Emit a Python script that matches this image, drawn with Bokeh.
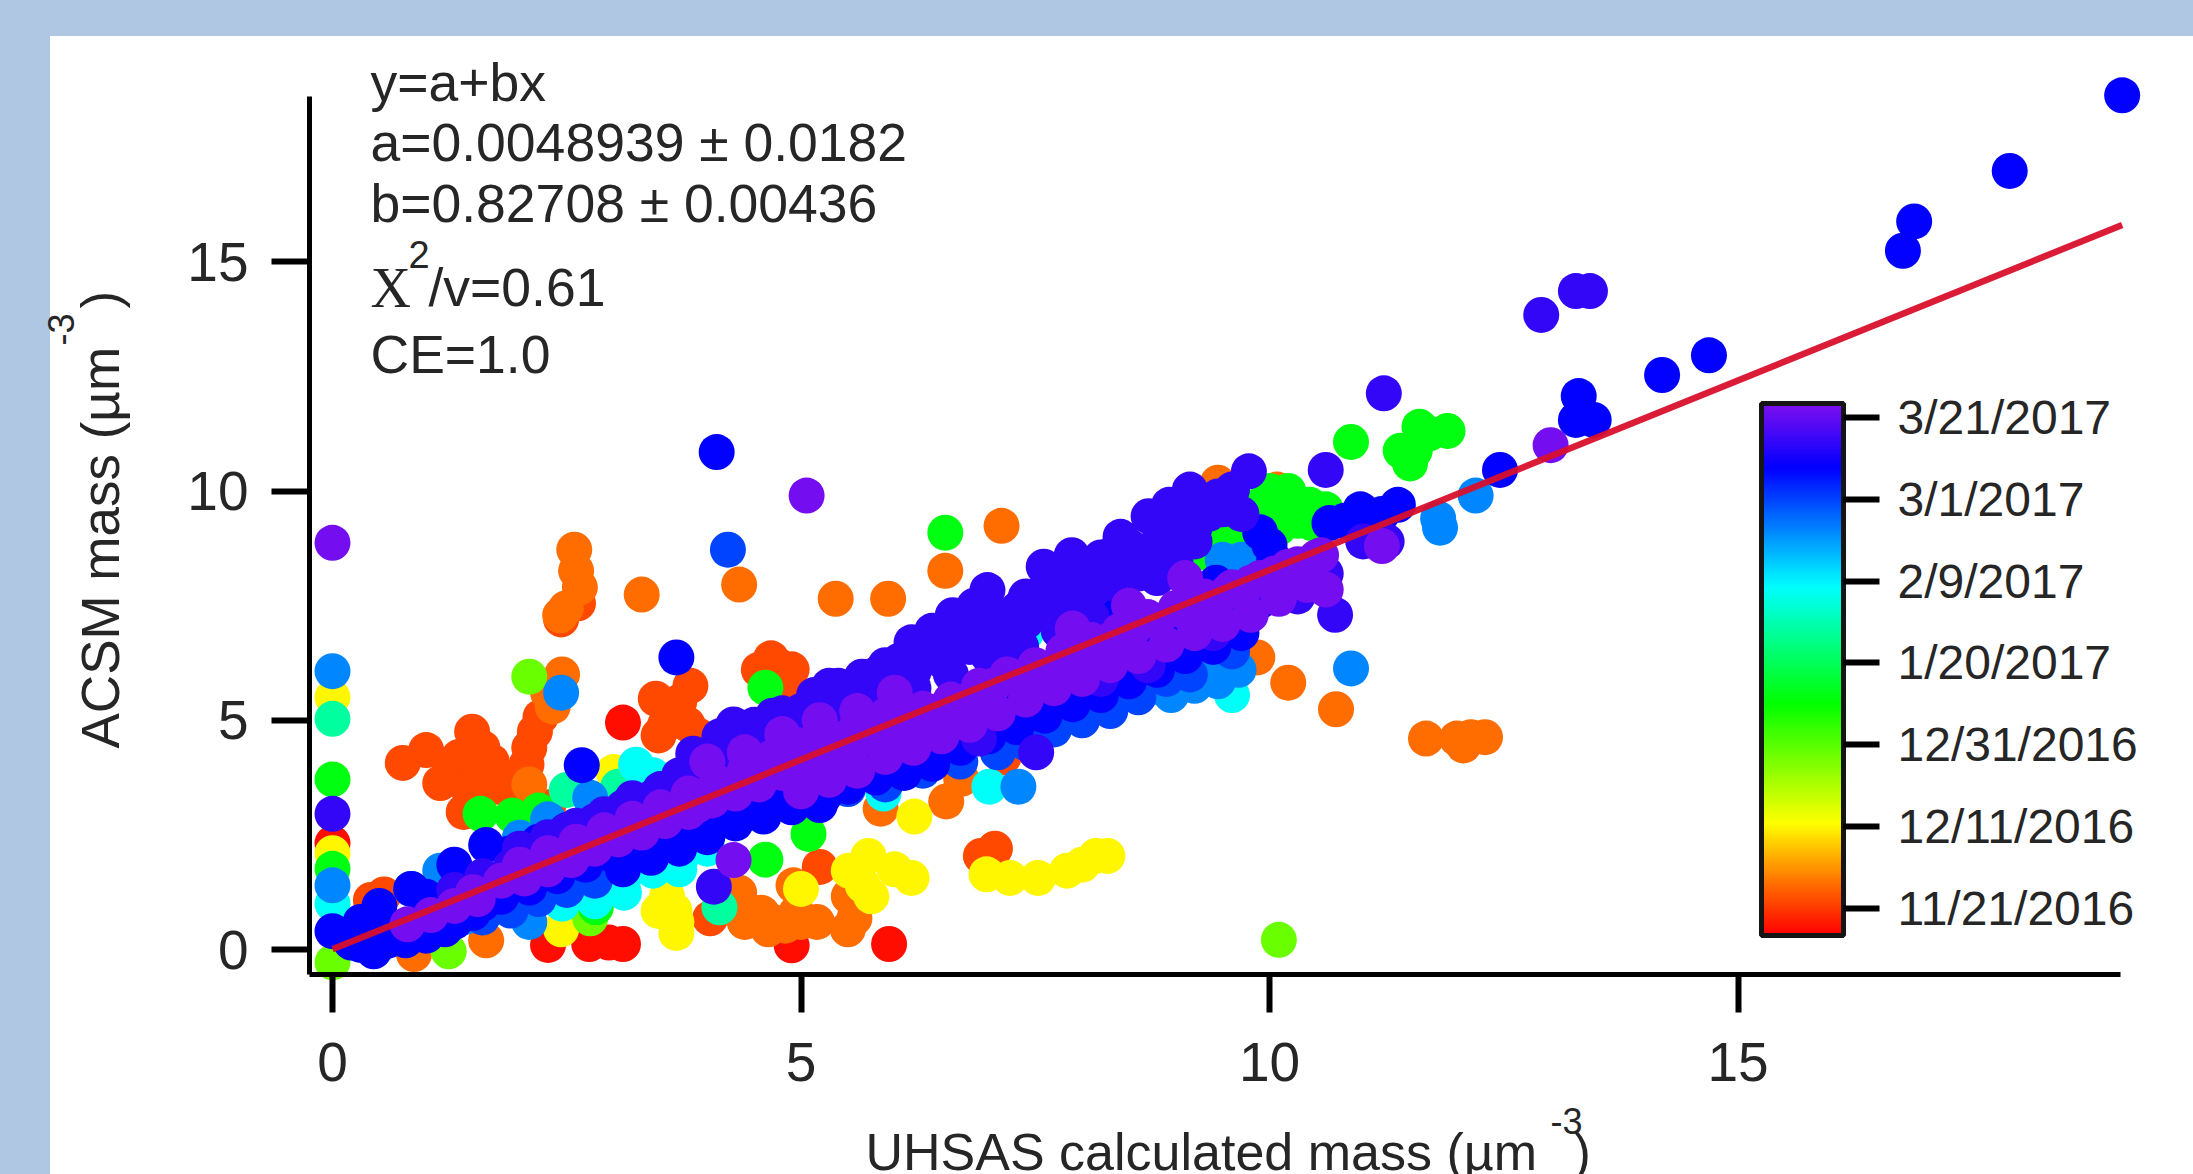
import numpy as np
from bokeh.plotting import figure
from bokeh.models import ColumnDataSource, LinearColorMapper, ColorBar, FixedTicker, Label
from bokeh.embed import file_html
from bokeh.resources import INLINE

# ---------- data: (x, y), grouped by date colour (days since 11/21/2016)
red_day = -5
red_pts = [(2.74,.12),(2.95,.15),(3.1,.12),(5.94,.12),(4.9,.09),(3.1,4.95),(0,2.32),(2.3,.1)]
orange_red_day = 2
orange_red_pts = [(.75,4.07),(1,4.35),(1.15,3.63),(1.25,3.95),(1.35,4.2),(1.49,4.75),(1.49,4.2),(1.58,3.8),(1.7,4.1),(1.76,3.55),(1.45,3.5),(1.6,4.4),
    (1.4,3.0),(2.07,4.03),(2.07,3.4),(2.0,3.7),(2.22,5.07),(2.16,4.75),(2.1,4.4),(2.44,7.2),(2.62,7.55),(3.45,5.47),(3.82,5.75),(3.6,5.15),(3.7,5.4),
    (3.48,4.67),(3.79,4.91),(3.9,4.67),(3.55,4.9),(4.68,6.35),(4.9,6.11),(4.8,5.71),(4.03,.68),(.41,1.08),(.55,1.2),(6.92,2.04),(7.07,2.2),
    (7.16,4.19),(5.2,1.8),(2.3,3.1),(4.55,6.1),(4.75,6.2)]
orange_day = 6
orange_pts = [(2.58,8.72),(2.6,8.26),(2.64,7.9),(2.49,7.44),(2.43,7.29),(3.3,7.74),(5.37,7.65),(5.93,7.65),(4.34,7.96),
    (6.54,8.26),(7.14,9.24),(9.87,6.37),(10.2,5.82),(10.71,5.24),(11.67,4.6),(12.07,4.45),(12.15,4.63),(12.3,4.63),(12.0,4.6),
    (9.45,10.18),(10.08,10.03),(4.4,.6),(4.58,.8),(4.65,.44),(4.83,.52),(5.0,.6),(5.17,.6),(5.5,.44),(5.57,.68),(4.92,1.4),(5.51,1.16),
    (4.34,1.24),(4.4,.9),(4.7,.6),(4.95,.8),(6.71,3.72),(6.55,3.23),(5.85,3.07),(2.1,3.6),(2.3,5.6),(2.45,6.0),(2.35,5.3),(1.64,.2),(.87,-.1)]
yellow_day = 20
yellow_pts = [(6.98,1.64),(7.23,1.56),(7.53,1.56),(7.84,1.72),(8.15,2.04),(8.27,2.04),(8.0,1.85),(6.18,1.56),(5.72,2.04),(5.66,1.4),
    (5.75,1.16),(5.51,1.72),(6.0,1.75),(5,1.32),(3.57,1.16),(3.67,.6),(3.67,.36),(3.48,.84),(3.65,.85),(2.44,.44),(6.21,2.9),(3,3.87),(0,5.5),(0,2.1)]
lime_day = 38
lime_pts = [(2.1,5.95),(10.1,.21),(1.24,-.04),(2.75,.68),(0,-.28)]
green_day = 52
green_pts = [(1.58,2.96),(1.92,2.92),(2.2,3.03),(2.81,.92),(4.62,1.96),(5.08,2.52),(4.62,5.71),(6.54,9.09),(10.87,11.07),
    (11.4,10.88),(11.55,10.88),(11.6,11.4),(11.7,11.25),(11.9,11.31),(11.5,10.6),(9.6,9.57),(9.9,9.7),(10.2,9.57),(10.43,9.7),(9.75,9.1),(9.45,9.1),
    (9.3,8.66),(10.0,10.0),(10.1,9.2),(9.4,9.0),(9.7,8.9),(9.55,9.3),(9.85,9.4),(10.3,9.35),(10.45,9.3),(10.6,9.6),(10.2,10.0),(0,3.71),(0,1.76)]
teal_day = 68
teal_pts = [(2.5,3.48),(3.05,3.55),(4.13,.92),(0,5.03)]
cyan_day = 78
cyan_pts = [(3.24,4.03),(3.42,3.8),(3.11,1.24),(3.42,1.72),(3.73,2.04),(2.81,1.32),(2.45,1.0),(2.8,1.05),(3.1,1.5),(3.7,1.75),(4,2.2),
    (7.01,3.55),(5.88,3.4),(9.6,5.55),(0,1),(8.14,7.33),(7.1,6.9),(7.4,6.9)]
azure_day = 92
azure_pts = [(10.87,6.13),(2.44,5.6),(0,6.07),(0,1.4),(7.32,3.55),(.5,.1),(.8,.25),(1.1,.45),(1.4,.7),(1.8,.95),(2.1,.6),(2.1,1.2),
    (2.4,1.45),(2.7,1.7),(3,1.95),(3.3,2.15),(3.6,2.4),(3.9,2.7),(4.2,2.9),(8.71,5.7),(8.95,5.55),(9.2,5.75),(9.45,5.85),(9.67,6.1),(9.4,6.3),
    (9.5,8.5),(9.7,8.5),(9.6,8.1),(1.15,1.72),(.84,1.32),(2,2.44),(2.75,3.31),(2.3,2.84),(11.82,9.2),(12.2,9.9),(11.8,9.4)]
royal_day = 100
royal_pts = [(4.22,8.72),(4.5,3.1),(4.8,3.35),(5.1,3.4),(5.5,3.5),(5.9,3.6),(6.3,3.9),(6.7,4.1),(7.1,4.3),(7.4,4.5),(7.7,4.8),(8,5),(8.3,5.2),(8.6,5.5),
    (8.9,5.9),(9.15,6.0),(9.6,6.5),(1.6,.7),(1.9,.85),(2.2,1.1),(2.5,1.3),(2.8,1.5)]
blue_day = 108
blue_pts = [(4.1,10.85),(3.67,6.37),(2.66,4.02),(19.1,18.63),(17.9,16.98),(16.88,15.88),(16.76,15.24),(14.69,12.96),(14.19,12.53),
    (13.3,12.07),(13.35,11.62),(13.46,11.55),(13.27,11.55),(12.46,10.46),(10.64,9.3),(10.97,9.6),(11.37,9.7),(11.1,9.3),(10.8,9.35),(11.2,9.5),
    (10,8.82),(10.05,8.5),(9.43,8.0),(8.38,7.34),(0,.4),(.3,.1),(.44,-.04),(.6,.2),(.78,.2),(.9,.45),(1.2,.44),(1.5,.8),(1.8,1.15),(2.1,1.35),(2.4,1.6),(2.7,1.85),(3,2.05),(3.3,2.35),
    (3.6,2.6),(3.9,2.85),(4.2,3.1),(4.5,3.3),(4.8,3.55),(5.1,3.8),(5.4,4.05),(5.7,4.3),(6,4.45),(6.3,4.7),(6.6,4.95),(6.9,5.25),(7.2,5.4),
    (7.5,5.7),(7.8,5.9),(8.1,6.2),(8.4,6.5),(8.7,6.7),(9,6.9),(9.3,7.2),(9.6,7.4),(9.9,7.6),(1.64,2.28),(1.3,1.85),(.84,1.32),(.5,.95),(.3,.6),
    (1.0,1.15),(1.9,2.1),(2.2,2.35),(2.5,2.6),(4.1,3.4),(4.65,3.55),(5.65,3.85),(6.05,4.05),(6.4,4.35),(4.35,3.0),(5.25,3.35),(7.7,8.2),(8.0,8.1),
    (9.9,9.1),(.2,.15),(.45,.3),(.7,.35),(1,.3),(1.3,.6),(1.6,1.0),(3.1,1.75),(3.4,2),(3.7,2.2),(4,2.45),(4.3,2.75),(4.6,2.9),(4.9,3.1),(5.2,3.15),(5.5,3.55),
    (5.8,3.75),(6.1,3.85),(6.4,4.05),(6.7,4.4),(7,4.65),(7.3,4.85),(7.6,5.1),(7.9,5.35),(8.2,5.55),(8.5,5.85),(8.8,6.1),(9.1,6.4),(9.4,6.6),(9.7,6.9)]
indigo_day = 114
indigo_pts = [(3.85,4.27),(4.13,4.65),(4.28,4.91),(4.5,4.9),(4.7,5.1),(4.8,5.15),(5.14,5.55),(5.4,5.75),(5.65,5.95),(5.9,6.2),(6.18,6.7),(6.4,6.95),(6.62,7.29),(6.99,7.84),(6.85,7.5),
    (7.3,7.4),(7.59,8.35),(7.89,8.6),(8.2,8.55),(8.41,9),(8.71,9.45),(8.93,9.7),(9.15,10.03),(9.6,10.03),(9.78,10.43),(9.45,9.88),(8.6,8.5),(8.9,8.9),(8.8,9.4),(8.5,8.3),(8.2,8.2),(8,7.9),(7.7,7.6),
    (7.4,7.7),(7.1,7.2),(6.8,6.9),(6.5,6.6),(6.2,6.3),(5.9,6.1),(5.6,5.4),(5.3,5.75),(5,5.2),(4.6,4.7),(4.3,4.4),(4,3.9),(3.7,3.8),(3.4,3.3),(3.1,3.1),(2.8,2.8),(2.5,2.6),
    (2.2,2.2),(1.9,1.8),(1.6,1.6),(1.3,1.3),(11.22,12.13),(10.6,10.46),(12.9,13.84),(13.27,14.36),(13.42,14.36),(10.7,7.3),(9.2,9.2),(9.0,8.4),(7.51,4.3),
    (4.07,1.37),(0,2.96),(6.9,4.6),(8.2,5.9),(8.7,6.2),(9.4,6.9),(9.9,7.9),(10.3,7.7),(10.6,8.2),(11.0,8.9),(11.25,8.9),(9.0,9.3),(8.3,8.6),
    (2,2.2),(2.3,2.45),(2.6,2.7),(2.9,2.95),(3.2,3.3),(3.5,3.5),(3.8,3.85),(4.1,4.1),(4.4,4.4),(4.7,4.65),(5,4.9),(5.3,5.2),(5.6,5.4),(5.9,5.7),(6.2,6.05),(6.5,6.3),(6.8,6.6),
    (7.1,6.8),(7.4,7.15),(7.7,7.4),(8,7.7),(8.3,8),(8.6,8.2),(8.9,8.6),(9.2,8.9),(8.5,8.8),(8.8,8.1),(9,8.9),(9.1,9.5),(8.9,9.35),(8.7,8.7),(8.4,8.45),(8.15,7.9),(7.9,8.05),(7.6,7.8),(7.35,7.5),
    (7,7.3),(6.75,7.05),(6.55,6.75),(6.3,6.5),(6.05,6.3),(5.8,6.0),(5.5,5.6),(5.2,5.3),(4.95,5.0),(4.55,4.55),(4.25,4.25),(3.55,3.4),(9.5,9.6),(9.7,9.5),(9.35,9.5),(7.0,6.4),(7.35,6.6),(7.75,6.95),
    (8.1,7.25),(6.6,6.0),(6.2,5.7),(5.8,5.3),(5.4,5.0)]
violet_day = 122
violet_pts = [(0,8.87),(5.06,9.9),(13,11),(4.28,1.95),(1.5,1.25),(1.8,1.5),(2.1,1.7),(2.4,1.95),(2.7,2.2),(3,2.45),(3.3,2.75),(3.6,3.0),(3.9,3.15),(4.2,3.5),
    (4.5,3.8),(4.8,4.0),(5.1,4.3),(5.4,4.5),(5.7,4.75),(6,5.0),(6.3,5.25),(6.6,5.45),(6.9,5.75),(7.2,6.0),(7.5,6.2),(7.8,6.5),(8.1,6.75),(8.4,6.95),(8.7,7.25),(9,7.45),
    (9.3,7.7),(9.6,7.9),(9.9,8.1),(10.2,8.35),(10.4,8.03),(10.5,8.55),(4.0,4.1),(4.4,4.3),(4.8,4.7),(5.2,5.0),(5.6,5.2),(6,5.6),(9.1,8.1),(8.5,7.5),(7.9,7.0),
    (.8,.55),(1.05,.75),(1.3,.95),(1.55,1.1),(2.05,1.55),(2.3,1.75),(2.55,1.95),(2.8,2.2),(3.05,2.4),(3.3,2.55),(3.55,2.8),(3.8,3.0),(4.05,3.25),(4.3,3.4),(4.55,3.6),(4.8,3.85),
    (5.05,4.05),(5.3,4.3),(5.55,4.45),(5.8,4.65),(6.05,4.85),(6.3,5.1),(6.55,5.3),(6.8,5.45),(7.05,5.75),(7.3,5.9),(7.55,6.1),(7.8,6.35),(8.05,6.55),(8.3,6.75),(8.55,7),(8.8,7.15),
    (9.05,7.4),(9.3,7.6),(9.55,7.8),(9.8,8),(10.05,8.2),(10.3,8.4),(10.55,8.6),(2,1.85),(2.3,2.1),(2.6,2.35),(2.9,2.6),(3.2,2.85),(3.5,3.1),(3.8,3.4),(4.1,3.65),(4.4,3.9),(4.7,4.2),
    (5,4.45),(5.3,4.65),(5.6,4.9),(5.9,5.1),(5,3.45),(5.3,3.7),(5.6,3.9),(5.9,4.2),(6.2,4.4),(6.5,4.65),(6.8,4.9),(7.1,5.15),(7.4,5.45),(7.7,5.7),(8,5.9),(8.3,6.2),(8.6,6.4),(8.9,6.65),
    (9.2,6.9),(9.5,7.1),(9.8,7.3),(10.1,7.65),(10.4,7.95),(10.6,7.85),(11.2,8.8)]

groups = [(red_day, red_pts), (orange_red_day, orange_red_pts), (orange_day, orange_pts), (yellow_day, yellow_pts),
          (lime_day, lime_pts), (green_day, green_pts), (teal_day, teal_pts), (cyan_day, cyan_pts), (azure_day, azure_pts),
          (royal_day, royal_pts), (blue_day, blue_pts), (indigo_day, indigo_pts), (violet_day, violet_pts)]

fit_a, fit_b = 0.0048939, 0.82708
fit_x = [0, 19.1]
tick_days = [0, 20, 40, 60, 80, 100, 120]
tick_dates = ["11/21/2016", "12/11/2016", "12/31/2016", "1/20/2017", "2/9/2017", "3/1/2017", "3/21/2017"]
day_low, day_high = -6.6, 123.4

# ---------- page geometry
W, H = 2193, 1174
X0, XU, Y0, YU = 332, 93.7, 949, 45.85      # page px of data zero, px per unit
dx = lambda px: (px - X0) / XU
dy = lambda py: (Y0 - py) / YU

# ---------- colours
stops = [(0, (255,0,0)), (.10, (255,115,0)), (.21, (255,255,0)), (.436, (0,255,0)),
         (.656, (0,255,255)), (.88, (0,0,255)), (1, (125,15,240))]
pos = np.linspace(0, 1, 256)
sp = [s[0] for s in stops]
chan = [np.interp(pos, sp, [s[1][i] for s in stops]) for i in range(3)]
palette = ["#%02x%02x%02x" % (int(r), int(g), int(b)) for r, g, b in zip(*chan)]
mapper = LinearColorMapper(palette=palette, low=day_low, high=day_high)

p = figure(width=W, height=H, output_backend="svg", toolbar_location=None,
           x_range=(dx(0), dx(W)), y_range=(dy(H), dy(0)), min_border=0,
           background_fill_color=None, border_fill_color=None, outline_line_color=None)
p.grid.visible = False

xs, ys, cs = [], [], []
for day, pts in groups:
    for a, b in pts:
        xs.append(a); ys.append(b); cs.append(day)
src = ColumnDataSource(dict(x=xs, y=ys, day=cs))
p.scatter("x", "y", source=src, size=36, marker="circle", line_color=None,
          fill_color={"field": "day", "transform": mapper})

p.line(fit_x, [fit_a + fit_b * v for v in fit_x], line_color="#d8102c", line_width=6.5, line_alpha=.95)

FONT = "Liberation Sans"
TXT = "#262626"
ax = p.xaxis[0]
ax.fixed_location = dy(974)
ax.bounds = (dx(309), dx(2120))
ax.ticker = FixedTicker(ticks=[0, 5, 10, 15])
ay = p.yaxis[0]
ay.fixed_location = dx(309)
ay.bounds = (dy(974), dy(96))
ay.ticker = FixedTicker(ticks=[0, 5, 10, 15])
for a in (ax, ay):
    a.axis_line_color = "black"; a.axis_line_width = 5
    a.major_tick_line_color = "black"; a.major_tick_line_width = 6
    a.major_tick_in = 0; a.major_tick_out = 38
    a.minor_tick_line_color = None
    a.major_label_text_font = FONT; a.major_label_text_font_size = "55px"
    a.major_label_text_color = TXT
ax.major_label_standoff = 30
ay.major_label_standoff = 23

BL = 21  # the Label baseline sits this far below its anchor

def text(s, px, py, size=53.5, font=FONT, **kw):
    p.add_layout(Label(x=dx(px), y=dy(py - BL), text=s, text_font=font, text_font_size=f"{size}px",
                       text_color=TXT, text_baseline="alphabetic", **kw))

def vtext(s, px, py, size=53):
    p.add_layout(Label(x=dx(px - 18), y=dy(py), text=s, text_font=FONT, text_font_size=f"{size}px",
                       text_color=TXT, text_baseline="alphabetic", angle=np.pi / 2))

text("y=a+bx", 370, 103)
text("a=0.0048939 ± 0.0182", 370, 163)
text("b=0.82708 ± 0.00436", 370, 224)
text("X", 370, 308, size=56, font="Liberation Serif")
text("2", 408, 275, size=38)
text("/v=0.61", 428, 308)
text("CE=1.0", 370, 375)

text("UHSAS calculated mass (µm", 865, 1172, size=52)
text("-3", 1550, 1141, size=36)
text(")", 1573, 1172, size=52)
vtext("ACSM mass (µm", 118, 748)
vtext("-3", 78, 345, size=36)
vtext(")", 118, 308)

cb = ColorBar(color_mapper=mapper, ticker=FixedTicker(ticks=tick_days),
              major_label_overrides={d: t for d, t in zip(tick_days, tick_dates)},
              location=(1761, H - 935), width=82, height=532, margin=0, padding=0,
              background_fill_color=None, bar_line_color="#151515", bar_line_width=5,
              major_tick_line_color="black", major_tick_line_width=6, major_tick_in=0, major_tick_out=36,
              minor_tick_line_color=None, label_standoff=18,
              major_label_text_font=FONT, major_label_text_font_size="48px", major_label_text_color=TXT)
p.add_layout(cb)

BLUE = "#afc7e3"
css = ("<style>html,body{background:"
       f"linear-gradient({BLUE},{BLUE}) top left/100% 36px no-repeat,"
       f"linear-gradient({BLUE},{BLUE}) top left/50px 100% no-repeat,#ffffff;height:100%}}"
       "html{overflow:hidden}</style>")
html = file_html(p, INLINE).replace("</head>", css + "</head>", 1)
open("out.html", "w").write(html)
